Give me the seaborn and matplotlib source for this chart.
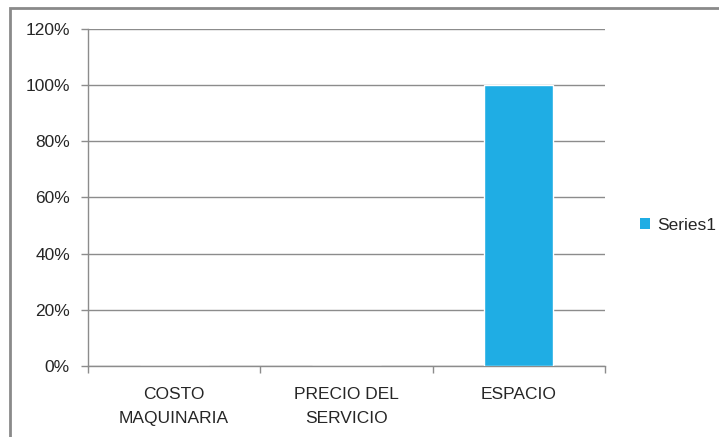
import matplotlib
matplotlib.use("Agg")
import matplotlib.pyplot as plt
from matplotlib.patches import Rectangle, Patch
from matplotlib.ticker import FixedLocator, PercentFormatter
import seaborn as sns
import pandas as pd

categories = ["COSTO\nMAQUINARIA", "PRECIO DEL\nSERVICIO", "ESPACIO"]
values = [0.0, 0.0, 1.0]
series_name = "Series1"
y_ticks = [0.0, 0.2, 0.4, 0.6, 0.8, 1.0, 1.2]

bar_color = "#1FADE4"
grid_color = "#8C8C8C"
text_color = "#262626"
font_size = 12.5

sns.set_theme(style="white")
plt.rcParams["font.family"] = ["Liberation Sans", "DejaVu Sans"]

df = pd.DataFrame({"categoria": categories, "valor": values})

fig = plt.figure(figsize=(7.19, 4.37), dpi=100)
ax = fig.add_axes([88 / 719, 1 - 366 / 437, (605 - 88) / 719, (366 - 29) / 437])

sns.barplot(data=df, x="categoria", y="valor", color=bar_color, width=0.4,
            saturation=1, ax=ax, zorder=3)

ax.set_ylim(0, 1.2)
ax.set_xlim(-0.5, len(categories) - 0.5)
ax.yaxis.set_major_locator(FixedLocator(y_ticks))
ax.yaxis.set_major_formatter(PercentFormatter(xmax=1, decimals=0))
ax.grid(axis="y", color=grid_color, linewidth=1, zorder=0)
ax.grid(axis="x", visible=False)
ax.set_xlabel("")
ax.set_ylabel("")

for side in ["top", "right"]:
    ax.spines[side].set_visible(False)
for side in ["left", "bottom"]:
    ax.spines[side].set_color(grid_color)
    ax.spines[side].set_linewidth(1)

# y ticks: short outward marks
ax.tick_params(axis="y", which="major", left=True, length=5, width=1,
               color=grid_color, labelsize=font_size, labelcolor=text_color,
               pad=8)

# x: category labels centred, tick marks at category boundaries
ax.tick_params(axis="x", which="major", bottom=False, labelsize=font_size,
               labelcolor=text_color, pad=9)
ax.set_xticks(range(len(categories)))
ax.set_xticklabels(categories, linespacing=1.75)
ax.set_xticks([i - 0.5 for i in range(len(categories) + 1)], minor=True)
ax.tick_params(axis="x", which="minor", bottom=True, length=5, width=1,
               color=grid_color)

handles = [Patch(facecolor=bar_color, edgecolor="none", label=series_name)]
fig.legend(handles=handles, loc="center left",
           bbox_to_anchor=(624 / 719, 1 - 225 / 437), frameon=False,
           fontsize=font_size, handlelength=0.6, handleheight=0.6,
           handletextpad=0.4, labelcolor=text_color)

# chart-area frame
fig.patches.append(Rectangle((10 / 719, -0.05), 1.0, 1 - 7.5 / 437 + 0.05,
                             transform=fig.transFigure, fill=False,
                             edgecolor="#8A8A8A", linewidth=2))

fig.savefig("out.png", dpi=100)
